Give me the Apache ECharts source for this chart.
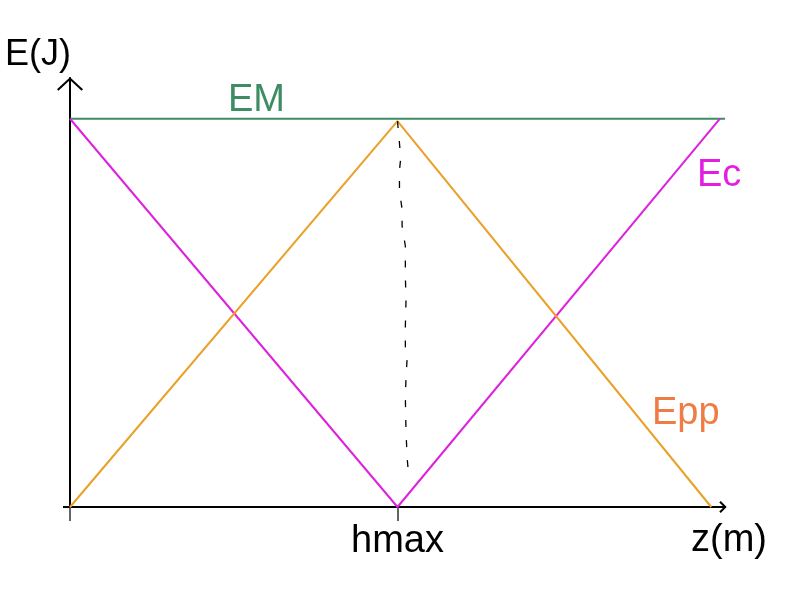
<!DOCTYPE html>
<html>
<head>
<meta charset="utf-8">
<script src="https://cdn.jsdelivr.net/npm/echarts@6/dist/echarts.min.js"></script>
<style>html,body{margin:0;padding:0;background:#fff;}#c{width:800px;height:600px;}</style>
</head>
<body>
<div id="c"></div>
<script>
// Data (z in arbitrary units, E in arbitrary units)
const emData = [[0, 100], [100, 100]];
const ecData = [[0, 100], [50, 0], [99.2, 100]];
const eppData = [[0, 0], [50, 99.4], [97.9, 0]];
const dashedData = [[50, 99.4], [50.5, 89.9], [50.3, 86.8], [50.3, 81.4], [50.7, 76.7], [50.7, 72.4],
  [51.2, 67.2], [51.2, 59.3], [51.3, 53.3], [51.2, 46.6], [51.2, 41.2], [51.5, 39.2], [51.3, 33.2],
  [51.2, 28.3], [51.3, 19.1], [51.5, 12.1], [51.7, 8.2]];
const xTickValues = [0, 50];
const xLabelValues = [50];
const xLabelText = 'hmax';
const seriesNames = ['EM', 'Ec', 'Epp'];

const chart = echarts.init(document.getElementById('c'));
const font = 'Liberation Sans, Arial, sans-serif';
chart.setOption({
  animation: false,
  backgroundColor: '#ffffff',
  grid: { left: 70, right: 75, top: 78, bottom: 93 },
  xAxis: {
    type: 'value', min: 0, max: 100,
    splitLine: { show: false },
    axisLine: { lineStyle: { color: '#000', width: 2 }, symbol: ['none', 'path://M0,6 L6,0 L12,6 L10.6,7.4 L6,2.8 L1.4,7.4 Z'], symbolSize: [12, 7.4], symbolOffset: [0, -2] },
    axisTick: { show: true, customValues: xTickValues, length: 14, lineStyle: { color: '#333', width: 1.5 } },
    axisLabel: { show: true, customValues: xLabelValues, formatter: function () { return xLabelText; }, fontSize: 38, fontFamily: font, color: '#000', margin: 16 }
  },
  yAxis: {
    type: 'value', min: 0, max: 110.5,
    splitLine: { show: false },
    axisLine: { onZero: false, lineStyle: { color: '#000', width: 2 }, symbol: ['none', 'path://M0,12 L13,0 L26,12 L24.6,13.4 L13,2.8 L1.4,13.4 Z'], symbolSize: [26, 13.4], symbolOffset: [0, -6] },
    axisTick: { show: true, customValues: [0], length: 7, lineStyle: { color: '#000', width: 2 } },
    axisLabel: { show: false }
  },
  graphic: [
    { type: 'text', left: 5, top: 37, style: { text: 'E(J)', font: '36px ' + font, fill: '#000' } },
    { type: 'text', left: 228, top: 82, style: { text: seriesNames[0], font: '38px ' + font, fill: '#3d8c63' } },
    { type: 'text', left: 697, top: 157, style: { text: seriesNames[1], font: '38px ' + font, fill: '#e21ee2' } },
    { type: 'text', left: 652, top: 395, style: { text: seriesNames[2], font: '38px ' + font, fill: '#f07c45' } },
    { type: 'text', left: 691, top: 522, style: { text: 'z(m)', font: '38px ' + font, fill: '#000' } }
  ],
  series: [
    { name: seriesNames[0], type: 'line', data: emData, symbol: 'none', lineStyle: { color: '#3d8c63', width: 2 }, z: 3 },
    { name: seriesNames[1], type: 'line', data: ecData, symbol: 'none', lineStyle: { color: '#dd22dd', width: 2 } },
    { name: seriesNames[2], type: 'line', data: eppData, symbol: 'none', lineStyle: { color: '#eba027', width: 2 } },
    { name: 'h', type: 'line', data: dashedData, symbol: 'none', lineStyle: { color: '#000', width: 1.3, type: [7, 13] } }
  ]
});
</script>
</body>
</html>
